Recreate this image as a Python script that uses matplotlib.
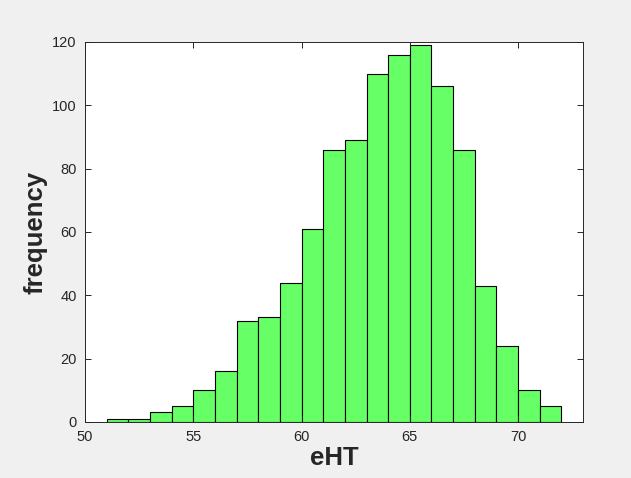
import matplotlib
matplotlib.use("Agg")
import matplotlib.pyplot as plt
import numpy as np

plt.rcParams["font.family"] = ["Liberation Sans", "DejaVu Sans"]

# bin edges and counts
bin_left = np.arange(51, 72)
counts = [1, 1, 3, 5, 10, 16, 32, 33, 44, 61, 86, 89, 110, 116, 119, 106, 86, 43, 24, 10, 5]
xticks = [50, 55, 60, 65, 70]
yticks = [0, 20, 40, 60, 80, 100, 120]

fig = plt.figure(figsize=(6.31, 4.78), dpi=100, facecolor="#f0f0f0")
ax = fig.add_axes([0.1347, 0.1172, 0.7893, 0.7950])

ax.bar(bin_left, counts, width=1.0, align="edge", color="#66ff66",
       edgecolor="black", linewidth=0.8)

ax.set_xlim(50, 73)
ax.set_ylim(0, 120)
ax.set_xticks(xticks)
ax.set_yticks(yticks)
ax.tick_params(direction="in", top=True, right=True, length=4,
               labelsize=10.5, colors="#262626", width=0.7)
ax.tick_params(axis="x", pad=6)
ax.tick_params(axis="y", pad=6)
for s in ax.spines.values():
    s.set_color("#262626")
    s.set_linewidth(0.7)

ax.set_xlabel("eHT", fontsize=18.5, fontweight="bold", color="#262626", labelpad=1)
ax.set_ylabel("frequency", fontsize=18.5, fontweight="bold", color="#262626", labelpad=3)

fig.savefig("out.png", dpi=100, facecolor=fig.get_facecolor())
